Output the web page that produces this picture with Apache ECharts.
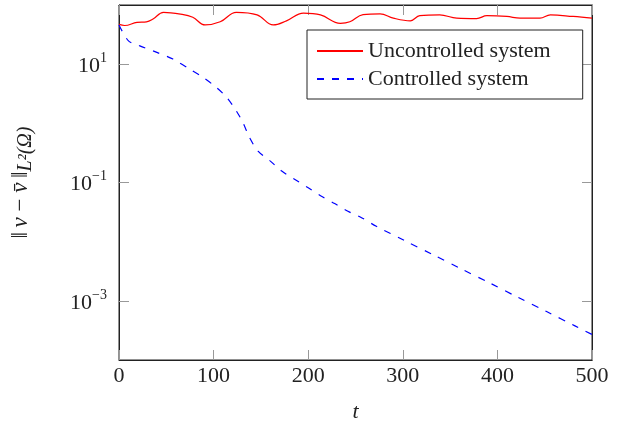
<!DOCTYPE html>
<html><head><meta charset="utf-8">
<script src="https://cdn.jsdelivr.net/npm/echarts@6/dist/echarts.min.js"></script>
<style>html,body{margin:0;padding:0;background:#fff}#c{width:617px;height:425px}</style>
</head><body><div id="c"></div>
<script>
// Uncontrolled system (red)
const tRed = [0, 6, 19, 29, 36, 47, 65, 78, 91, 107, 124, 146, 163, 177, 195, 213, 234, 244, 258, 276, 290, 308, 318, 339, 357, 378, 389, 410, 424, 445, 456, 480, 500];
const vRed = [47, 45, 51, 52, 58, 75, 70, 62, 46, 52, 75, 68, 46, 54, 73, 68, 49, 52, 69, 71, 60, 54, 66, 68, 60, 59, 66, 64, 60, 60, 68, 64, 60];
// Controlled system (blue dashed)
const tBlue = [0, 10, 22, 40, 57, 75, 89, 103, 114, 124, 131, 138, 147, 160, 172, 186, 200, 214, 228, 242, 255, 272, 302, 332, 362, 392, 422, 452, 482, 500];
const vBlue = [46, 24.8, 20.4, 15.8, 12.2, 8.2, 5.95, 4.03, 2.73, 1.62, 1.03, 0.573, 0.34, 0.23, 0.156, 0.1125, 0.0813, 0.0586, 0.044, 0.0326, 0.0262, 0.0182, 0.0104, 0.00602, 0.00345, 0.002, 0.00114, 0.000659, 0.000377, 0.00027];
// Axis ticks
const xTicks = [0, 100, 200, 300, 400, 500];
const yTickValues = [1e-3, 1e-1, 10];
const yTickExps = ['−3', '−1', '1'];

const FONT = 'Liberation Serif';
const BOX = '#222';
const TICK = '#999';
const TXT = '#222';

const chart = echarts.init(document.getElementById('c'), null, {renderer: 'canvas'});
const yLabel = v => {
  const i = yTickValues.findIndex(x => Math.abs(Math.log10(x) - Math.log10(v)) < 1e-6);
  return i < 0 ? '' : '{b|10}{s|' + yTickExps[i] + '}';
};
chart.setOption({
  animation: false,
  backgroundColor: '#fff',
  grid: {left: 119, right: 25, top: 5, bottom: 65, containLabel: false, outerBoundsMode: 'none',
         show: true, borderColor: BOX, borderWidth: 1, backgroundColor: 'transparent'},
  legend: {
    orient: 'vertical', left: 307, top: 30,
    itemWidth: 46, itemHeight: 14, itemGap: 6,
    padding: [10, 32, 9, 9],
    backgroundColor: '#fff', borderColor: BOX, borderWidth: 1, borderRadius: 0,
    itemStyle: {opacity: 0},
    textStyle: {fontFamily: FONT, fontSize: 22, color: TXT},
    data: ['Uncontrolled system', 'Controlled system']
  },
  xAxis: [{
    type: 'value', min: 0, max: 500, interval: 100, position: 'bottom',
    name: 't', nameLocation: 'middle', nameGap: 41,
    nameTextStyle: {fontFamily: FONT, fontSize: 22, fontStyle: 'italic', color: TXT},
    axisLine: {show: true, onZero: false, lineStyle: {color: BOX, width: 1}},
    axisTick: {show: true, inside: true, length: 10, lineStyle: {color: TICK}},
    axisLabel: {fontFamily: FONT, fontSize: 22, color: TXT, margin: 5},
    splitLine: {show: false}
  }, {
    type: 'value', min: 0, max: 500, interval: 100, position: 'top',
    axisLine: {show: true, onZero: false, lineStyle: {color: BOX, width: 1}},
    axisTick: {show: true, inside: true, length: 10, lineStyle: {color: TICK}},
    axisLabel: {show: false}, splitLine: {show: false}
  }],
  yAxis: [{
    type: 'log', min: 1e-4, max: 100, position: 'left',
    name: '{m|‖\u2009}{i|v}{m| − }{i|v̄}{m|\u2009‖}{sub|L²(Ω)}',
    nameLocation: 'middle', nameGap: 76, nameRotate: 90,
    nameTextStyle: {
      fontFamily: FONT, fontSize: 23, color: TXT,
      rich: {
        m: {fontFamily: FONT, fontSize: 23, color: TXT, lineHeight: 34, verticalAlign: 'top'},
        i: {fontFamily: FONT, fontSize: 23, fontStyle: 'italic', color: TXT, lineHeight: 34, verticalAlign: 'top'},
        sub: {fontFamily: FONT, fontSize: 20, fontStyle: 'italic', color: TXT, lineHeight: 34, verticalAlign: 'middle'}
      }
    },
    axisLine: {show: true, onZero: false, lineStyle: {color: BOX, width: 1}},
    axisTick: {show: true, inside: true, length: 10, lineStyle: {color: TICK}, customValues: yTickValues},
    minorTick: {show: false},
    axisLabel: {
      customValues: yTickValues, margin: 12, formatter: yLabel,
      rich: {
        b: {fontFamily: FONT, fontSize: 22, color: TXT, lineHeight: 26, verticalAlign: 'bottom'},
        s: {fontFamily: FONT, fontSize: 14, color: TXT, lineHeight: 26, verticalAlign: 'top'}
      }
    },
    splitLine: {show: false}
  }, {
    type: 'log', min: 1e-4, max: 100, position: 'right',
    axisLine: {show: true, onZero: false, lineStyle: {color: BOX, width: 1}},
    axisTick: {show: true, inside: true, length: 10, lineStyle: {color: TICK}, customValues: yTickValues},
    axisLabel: {show: false, customValues: yTickValues},
    splitLine: {show: false}
  }],
  series: [{
    name: 'Uncontrolled system', type: 'line', xAxisIndex: 0, yAxisIndex: 0,
    data: tRed.map((t, i) => [t, vRed[i]]),
    smooth: 0.4, showSymbol: false, symbol: 'none',
    lineStyle: {color: '#ff0000', width: 1.2}, itemStyle: {color: '#ff0000'}
  }, {
    name: 'Controlled system', type: 'line', xAxisIndex: 0, yAxisIndex: 0,
    data: tBlue.map((t, i) => [t, vBlue[i]]),
    smooth: 0.3, showSymbol: false, symbol: 'none',
    lineStyle: {color: '#0000ff', width: 1.2, type: [7, 8]}, itemStyle: {color: '#0000ff'}
  }]
});
</script>
</body></html>
